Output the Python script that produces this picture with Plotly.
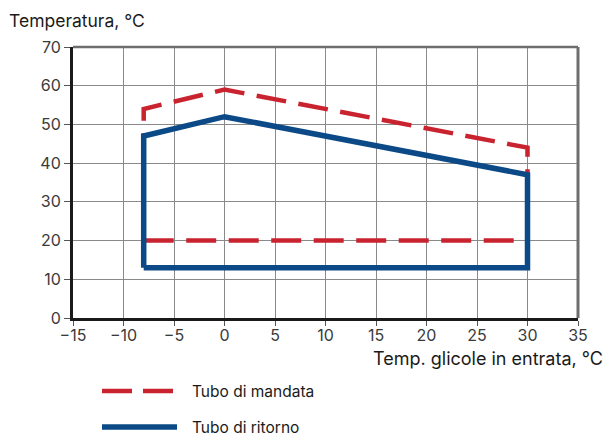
import plotly.graph_objects as go

# Operating envelope: outlet (supply) and return pipe temperatures vs. brine inlet temperature
# Supply outline is traced counter-clockwise from the lower-left corner.
mandata_x = [-8, 30, 30, 0, -8, -8]
mandata_y = [20, 20, 44, 59, 54, 20]

ritorno_x = [-8, -8, 0, 30, 30, -8]
ritorno_y = [13, 47, 52, 37, 13, 13]

x_ticks = [-15, -10, -5, 0, 5, 10, 15, 20, 25, 30, 35]
x_tick_text = ["\u221215", "\u221210", "\u22125", "0", "5", "10", "15", "20", "25", "30", "35"]
y_ticks = [0, 10, 20, 30, 40, 50, 60, 70]

series_names = ["Tubo di mandata", "Tubo di ritorno"]
RED = "#c8232f"
BLUE = "#0b4a86"
FONT = "Inter"

W, H = 606, 436
ML, MR, MT, MB = 73, 28, 47, 118
PW, PH = W - ML - MR, H - MT - MB


def px_to_paper(px, py):
    return (px - ML) / PW, (H - MB - py) / PH


fig = go.Figure()
fig.add_trace(go.Scatter(
    x=mandata_x, y=mandata_y, mode="lines", name=series_names[0],
    line=dict(color=RED, width=4.5, dash="30px,12.5px"), showlegend=False,
))
fig.add_trace(go.Scatter(
    x=ritorno_x, y=ritorno_y, mode="lines", name=series_names[1],
    line=dict(color=BLUE, width=5.5), showlegend=False,
))

shapes = [
    # top and right frame
    dict(type="line", xref="paper", yref="paper", x0=0, x1=1, y0=1, y1=1,
         line=dict(color="#6e6e6e", width=2.5)),
    dict(type="line", xref="paper", yref="paper", x0=1, x1=1, y0=0, y1=1,
         line=dict(color="#6e6e6e", width=3)),
]

# legend drawn below the plot
legend_rows = [(series_names[0], RED, 4.5, "30px,11px", 391),
               (series_names[1], BLUE, 5.5, "solid", 427)]
annotations = []
for name, color, width, dash, py in legend_rows:
    x0, y0 = px_to_paper(102, py)
    x1, _ = px_to_paper(177, py)
    shapes.append(dict(type="line", xref="paper", yref="paper", x0=x0, x1=x1, y0=y0, y1=y0,
                       line=dict(color=color, width=width, dash=dash)))
    tx, _ = px_to_paper(190, py)
    annotations.append(dict(text=name, xref="paper", yref="paper", x=tx, y=y0,
                            xanchor="left", yanchor="middle", showarrow=False,
                            font=dict(family=FONT, size=15.5, color="#1a1a1a")))

tx, ty = px_to_paper(7, 21)
annotations.append(dict(text="Temperatura, \u00b0C", xref="paper", yref="paper", x=tx, y=ty,
                        xanchor="left", yanchor="middle", showarrow=False,
                        font=dict(family=FONT, size=17.5, color="#1a1a1a")))
tx, ty = px_to_paper(605, 358)
annotations.append(dict(text="Temp. glicole in entrata, \u00b0C", xref="paper", yref="paper",
                        x=tx, y=ty, xanchor="right", yanchor="middle", showarrow=False,
                        font=dict(family=FONT, size=18, color="#1a1a1a")))

fig.update_layout(
    width=W, height=H,
    margin=dict(l=ML, r=MR, t=MT, b=MB),
    paper_bgcolor="white", plot_bgcolor="white",
    font=dict(family=FONT, size=16, color="#3a3a3a"),
    shapes=shapes, annotations=annotations,
    xaxis=dict(range=[-15, 35], tickvals=x_ticks, ticktext=x_tick_text,
               showgrid=True, gridcolor="#8a8a8a", gridwidth=1, zeroline=False,
               showline=True, linecolor="#1a1a1a", linewidth=3,
               ticks="outside", ticklen=5, tickcolor="#555", tickwidth=1,
               ticklabelstandoff=-4, fixedrange=True),
    yaxis=dict(range=[0, 70], tickvals=y_ticks,
               showgrid=True, gridcolor="#8a8a8a", gridwidth=1, zeroline=False,
               showline=True, linecolor="#1a1a1a", linewidth=3,
               ticks="outside", ticklen=6, tickcolor="#555", tickwidth=1,
               fixedrange=True),
)

fig.write_html("out.html")
